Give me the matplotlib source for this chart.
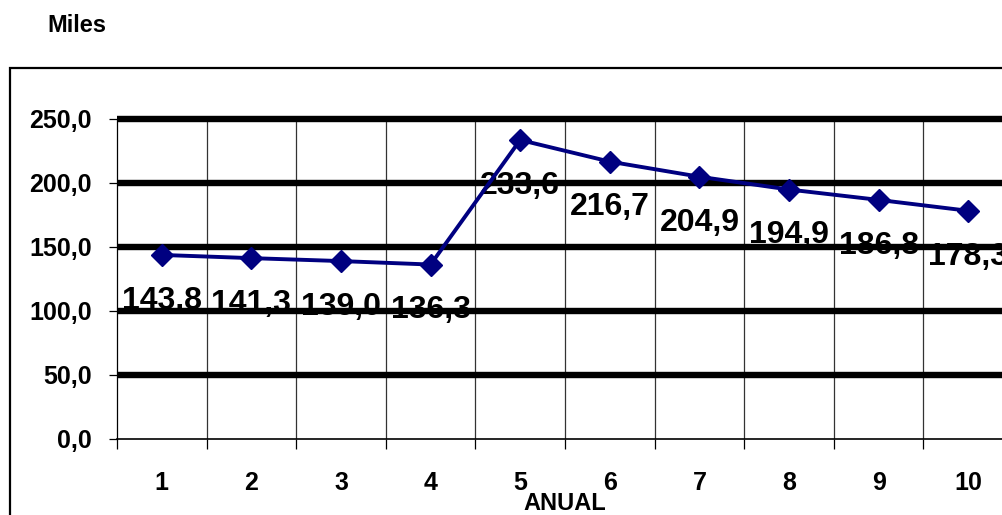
import matplotlib
matplotlib.use("Agg")
import matplotlib.pyplot as plt
from matplotlib.patches import Rectangle
from matplotlib.ticker import FixedLocator, NullFormatter
from matplotlib import font_manager

# Annual series (thousands)
years = [1, 2, 3, 4, 5, 6, 7, 8, 9, 10]
values = [143.8, 141.3, 139.0, 136.3, 233.6, 216.7, 204.9, 194.9, 186.8, 178.3]
y_ticks = [0, 50, 100, 150, 200, 250]
unit_label = "Miles"
x_title = "ANUAL"

W, H, DPI = 1002, 515, 100
fig = plt.figure(figsize=(W / DPI, H / DPI), dpi=DPI)
fig.patch.set_facecolor("white")

def fx(px):
    return px / W

def fy(py):
    return 1 - py / H

# Pick a narrow bold face for the data labels when one is available
installed = {f.name for f in font_manager.fontManager.ttflist}
narrow = [n for n in ("Liberation Sans Narrow",) if n in installed]
label_font = narrow + ["Liberation Sans", "DejaVu Sans"]

# Plot area (category axis runs a little past the right edge)
left, right, top, bottom = 117, 1013, 119, 439
ax = fig.add_axes([fx(left), fy(bottom), fx(right - left), (bottom - top) / H])

n = len(years)
xpos = list(range(n))
ax.set_xlim(-0.5, n - 0.5)
ax.set_ylim(0, 250)

# Horizontal thick gridlines
for v in y_ticks[1:]:
    ax.axhline(v, color="black", lw=4.6, zorder=2, clip_on=False,
               solid_capstyle="butt")
# Vertical thin gridlines at category boundaries
for b in range(1, n + 1):
    ax.axvline(b - 0.5, color="#333333", lw=0.9, zorder=1)

ax.plot(xpos, values, color="#000080", lw=2.8, marker="D", markersize=11,
        zorder=4, clip_on=False)

label_size = 25 if narrow else 23
for x, v in zip(xpos, values):
    ax.annotate(f"{v:.1f}".replace(".", ","), (x, v), xytext=(0, -33),
                textcoords="offset points", ha="center", va="center",
                fontsize=label_size, fontweight="bold", family=label_font,
                zorder=3, annotation_clip=False)

for side in ("top", "right"):
    ax.spines[side].set_visible(False)
ax.spines["left"].set_linewidth(0.9)
ax.spines["bottom"].set_linewidth(1.2)

ax.set_yticks(y_ticks)
ax.set_yticklabels([f"{v:.1f}".replace(".", ",") for v in y_ticks],
                   fontsize=18, fontweight="bold", family="Liberation Sans")
ax.tick_params(axis="y", length=6, width=0.9, pad=12)

ax.set_xticks(xpos)
ax.set_xticklabels([str(y) for y in years], fontsize=18, fontweight="bold",
                   family="Liberation Sans")
ax.tick_params(axis="x", which="major", length=0, pad=23)
ax.xaxis.set_minor_locator(FixedLocator([b - 0.5 for b in range(0, n + 1)]))
ax.xaxis.set_minor_formatter(NullFormatter())
ax.tick_params(axis="x", which="minor", length=7, width=0.9)

fig.text(fx(565), fy(503), x_title, ha="center", va="center",
         fontsize=17, fontweight="bold", family="Liberation Sans")
fig.text(fx(47), fy(25), unit_label, ha="left", va="center",
         fontsize=17, fontweight="bold", family="Liberation Sans")

# Outer chart frame
fig.add_artist(Rectangle((fx(10), -0.2), 1.2, fy(68) + 0.2,
                         transform=fig.transFigure, fill=False,
                         edgecolor="black", lw=1.6, zorder=0))

fig.savefig("out.png", dpi=DPI)
